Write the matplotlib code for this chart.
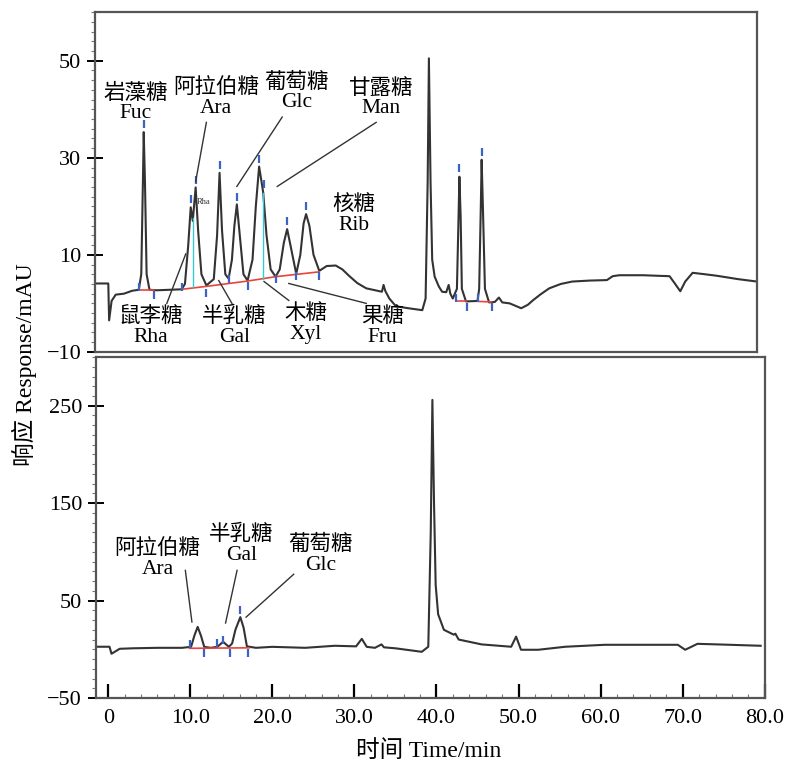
import matplotlib
matplotlib.use('Agg')
import matplotlib.pyplot as plt
from matplotlib.ticker import MultipleLocator

plt.rcParams['font.family'] = ['Liberation Serif', 'Noto Sans CJK SC']

# --- top chromatogram (standards), time in min, response in mAU
top_t = [-1.5, 0.1, 0.2, 0.5, 1.0, 2.0, 3.0, 3.8, 4.1, 4.3, 4.4, 4.55, 4.75, 5.1, 6.0,
         9.0, 9.4, 9.8, 10.1, 10.35, 10.7, 11.0, 11.4, 12.0, 12.9, 13.3, 13.6, 13.9, 14.3,
         14.7, 15.1, 15.4, 15.7, 16.0, 16.5, 17.0, 17.6, 18.0, 18.4, 18.7, 18.9, 19.3, 19.8,
         20.4, 20.9, 21.4, 21.8, 22.2, 22.9, 23.4, 23.8, 24.1, 24.5, 25.0, 25.7, 26.6, 27.7,
         28.5, 29.3, 30.3, 31.4, 33.3, 33.5, 33.7, 34.2, 35.0, 36.5, 38.2, 38.6, 38.85, 39.0,
         39.2, 39.4, 39.7, 40.2, 40.6, 41.1, 41.4, 41.6, 41.9, 42.4, 42.6, 42.7, 42.85, 43.0,
         43.5, 44.9, 45.1, 45.3, 45.4, 45.55, 45.8, 46.3, 47.0, 47.5, 47.9, 48.8, 50.2, 51.0,
         51.6, 52.5, 53.6, 55.0, 56.4, 58.5, 60.6, 61.3, 62.1, 65.0, 68.2, 68.8, 69.5, 70.1,
         71.0, 72.5, 73.9, 76.5, 78.8]
top_y = [4.1, 4.1, -3.5, 0.5, 1.8, 2.0, 2.6, 2.8, 6, 25, 35.3, 25, 6, 2.8, 2.7,
         2.9, 4, 12, 19.8, 17, 23.9, 15, 6, 3.7, 5, 14, 26.9, 15, 6,
         5.1, 9, 16, 20.4, 15, 6, 4.7, 9, 20, 28.2, 25, 22.8, 14, 7,
         5.5, 7, 12.5, 15.3, 12, 6.1, 10, 16.5, 18.4, 16, 10, 6.7, 7.7, 7.8,
         7, 5.7, 4.2, 3.1, 2.4, 3.8, 2.6, 1.0, -0.6, -1.0, -1.4, 1, 25, 50.5,
         25, 9, 5.5, 3.5, 2.4, 2.3, 3.8, 2.0, 1.0, 3, 18, 26.1, 18, 3,
         0.4, 0.5, 3, 20, 29.6, 20, 3, 0.2, 0.3, 1.2, 0.2, 0, -1.0, -0.3,
         0.6, 1.8, 3.1, 4.0, 4.5, 4.7, 4.8, 5.6, 5.8, 5.8, 5.6, 4.2, 2.5, 4.5,
         6.3, 6.0, 5.7, 5.0, 4.5]

# integration baselines (red) and peak split lines (cyan), top panel
top_base = [([4.0, 5.6], [2.8, 2.8]),
            ([9.0, 12.0, 17.0, 20.4, 25.7], [2.9, 3.5, 4.6, 5.5, 6.5]),
            ([42.3, 43.5], [0.4, 0.4]),
            ([45.0, 46.6], [0.4, 0.3])]
top_split = [([10.4, 10.4], [3.3, 17.5]), ([18.9, 18.9], [5.0, 22.8])]
top_mark_t = [4.4, 10.1, 10.7, 13.6, 15.7, 18.4, 18.95, 21.8, 24.1, 42.7, 45.4,
              3.8, 5.6, 9.0, 12.0, 14.7, 17.0, 20.4, 22.9, 25.7, 42.3, 43.6, 45.0, 46.6]
top_mark_y = [37.0, 21.5, 25.5, 28.5, 22.0, 29.8, 24.5, 17.0, 20.0, 27.8, 31.2,
              3.3, 1.8, 3.3, 2.2, 5.0, 3.6, 5.0, 5.6, 5.6, 1.2, -0.8, 1.2, -0.8]

# --- bottom chromatogram (sample)
bot_t = [-1.5, 0.16, 0.4, 1.4, 3.0, 6.0, 9.0, 10.1, 10.5, 10.9, 11.3, 11.7, 12.5, 13.3,
         14.0, 14.7, 15.1, 15.5, 16.1, 16.5, 16.9, 18.0, 20.0, 24.0, 27.6, 30.2, 30.9, 31.5,
         32.5, 33.3, 33.6, 35.0, 38.2, 39.0, 39.3, 39.5, 39.7, 39.9, 40.2, 40.9, 42.1, 42.3,
         42.7, 45.5, 49.1, 49.7, 50.3, 52.4, 55.7, 60.5, 69.4, 70.3, 71.8, 75.0, 79.5]
bot_y = [2.6, 2.6, -4.6, 0.5, 1.0, 1.5, 1.5, 2.5, 14, 23, 14, 2.5, 1.5, 2.5,
         7.7, 2.5, 6, 20, 33, 22, 3, 1.5, 2.5, 1.5, 3.6, 3, 10.7, 2.5,
         1.5, 5, 2, 1, -2.6, 2.6, 120, 256, 150, 66, 36, 20, 15, 16,
         10, 5, 2.6, 13, -0.5, -0.5, 2.6, 4.6, 4.6, -0.5, 5.6, 4.8, 3.6]
bot_base = [([9.9, 17.2], [1.0, 1.5])]
bot_mark_t = [10.0, 11.7, 13.2, 14.0, 14.8, 16.1, 17.0]
bot_mark_y = [5.0, -4.0, 6.0, 10.0, -4.0, 40.0, -4.0]

# annotations: (text, label x, label y, pointer start, pointer end)
top_labels = [('岩藻糖\nFuc', 3.4, 41.2, None, None),
              ('阿拉伯糖\nAra', 13.2, 42.2, (12.0, 37.3), (10.7, 25.1)),
              ('葡萄糖\nGlc', 22.9, 43.5, (21.2, 38.4), (15.7, 24.1)),
              ('甘露糖\nMan', 33.2, 42.2, (32.6, 37.3), (20.6, 24.1)),
              ('核糖\nRib', 29.9, 18.2, None, None),
              ('鼠李糖\nRha', 5.3, -4.9, (7.2, 0.0), (9.5, 10.2)),
              ('半乳糖\nGal', 15.4, -4.9, (15.1, 0.0), (13.5, 4.7)),
              ('木糖\nXyl', 24.1, -4.3, (22.0, 0.6), (19.0, 4.5)),
              ('果糖\nFru', 33.4, -4.9, (31.4, 0.0), (22.0, 4.1))]
bot_labels = [('阿拉伯糖\nAra', 6.0, 92.4, (9.4, 81), (10.2, 28)),
              ('半乳糖\nGal', 16.2, 107.2, (15.7, 81), (14.3, 27)),
              ('葡萄糖\nGlc', 25.9, 97.0, (22.6, 77), (16.8, 33))]

x_ticks = [0, 10, 20, 30, 40, 50, 60, 70, 80]
x_ticklabels = ['0', '10.0', '20.0', '30.0', '40.0', '50.0', '60.0', '70.0', '80.0']
top_yticks = [-10, 10, 30, 50]
bot_yticks = [-50, 50, 150, 250]

FS = 15.5   # peak labels
TS = 16     # tick labels
LS = 17     # axis titles
fig = plt.figure(figsize=(7.86, 7.65), dpi=100)
ax1 = fig.add_axes([0.121, 0.540, 0.842, 0.444])
ax2 = fig.add_axes([0.122, 0.0876, 0.851, 0.4457])

for ax in (ax1, ax2):
    for s in ax.spines.values():
        s.set_color('#555555')
        s.set_linewidth(1.6)
    ax.tick_params(axis='y', which='major', direction='inout', length=12, width=1.4,
                   labelsize=TS, pad=4)
    ax.tick_params(axis='y', which='minor', direction='out', length=3, width=0.8, color='#777777')

# top panel
ax1.plot(top_t, top_y, color='#333333', lw=1.5)
for xs, ys in top_base:
    ax1.plot(xs, ys, color='#e8443a', lw=1.2)
for xs, ys in top_split:
    ax1.plot(xs, ys, color='#3cc8d0', lw=1.0)
ax1.plot(top_mark_t, top_mark_y, ls='none', marker='|', ms=6, mew=1.6, color='#3a63c4')
ax1.text(10.8, 20.5, 'Rha', fontsize=6, color='#333333')
ax1.set_xlim(-1.5, 78.8)
ax1.set_ylim(-10, 60)
ax1.set_xticks([])
ax1.set_yticks(top_yticks)
ax1.set_yticklabels(['\u221210', '10', '30', '50'])
ax1.yaxis.set_minor_locator(MultipleLocator(2))
for txt, lx, ly, p0, p1 in top_labels:
    ax1.text(lx, ly, txt, ha='center', va='center', fontsize=FS, linespacing=1.05)
    if p0 is not None:
        ax1.plot([p0[0], p1[0]], [p0[1], p1[1]], color='#333333', lw=1.0)

# bottom panel
ax2.plot(bot_t, bot_y, color='#333333', lw=1.5)
for xs, ys in bot_base:
    ax2.plot(xs, ys, color='#e8443a', lw=1.2)
ax2.plot(bot_mark_t, bot_mark_y, ls='none', marker='|', ms=6, mew=1.6, color='#3a63c4')
ax2.set_xlim(-1.5, 80)
ax2.set_ylim(-50, 300)
ax2.set_xticks(x_ticks)
ax2.set_xticklabels(x_ticklabels)
ax2.xaxis.set_minor_locator(MultipleLocator(2))
ax2.tick_params(axis='x', which='major', direction='in', length=10, width=1.6,
                labelsize=TS, pad=8)
ax2.tick_params(axis='x', which='minor', direction='in', length=3, width=0.8, color='#777777')
ax2.set_yticks(bot_yticks)
ax2.set_yticklabels(['\u221250', '50', '150', '250'])
ax2.yaxis.set_minor_locator(MultipleLocator(10))
for txt, lx, ly, p0, p1 in bot_labels:
    ax2.text(lx, ly, txt, ha='center', va='center', fontsize=FS, linespacing=1.05)
    ax2.plot([p0[0], p1[0]], [p0[1], p1[1]], color='#333333', lw=1.0)

fig.text(0.031, 0.524, '响应 Response/mAU', rotation=90, ha='center', va='center', fontsize=LS)
fig.text(0.545, 0.018, '时间 Time/min', ha='center', va='center', fontsize=LS)

fig.savefig('out.png', dpi=100)
